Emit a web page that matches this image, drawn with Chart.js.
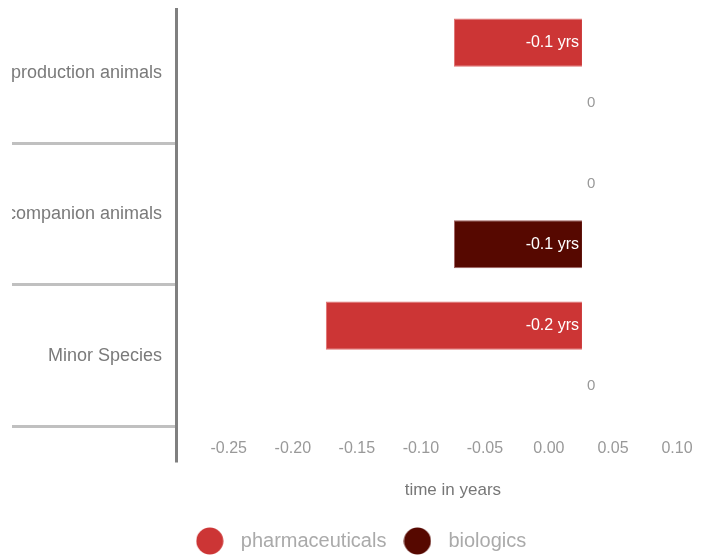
<!DOCTYPE html>
<html>
<head>
<meta charset="utf-8">
<title>time in years</title>
<script src="https://cdn.jsdelivr.net/npm/chart.js@4.4.0/dist/chart.umd.min.js"></script>
<style>
  html, body { margin: 0; padding: 0; background: #fff; }
  #wrap { width: 703px; height: 555px; }
</style>
</head>
<body>
<div id="wrap"><canvas id="chart"></canvas></div>
<script>
const categories = ['production animals', 'companion animals', 'Minor Species'];
const pharmaValues = [-0.1, 0, -0.2];
const bioValues = [0, -0.1, 0];
const tickValues = [-0.25, -0.2, -0.15, -0.1, -0.05, 0, 0.05, 0.1];

// value range of the bars, and how far the printed ticks are shifted from it
const barMin = -0.317;
const barMax = 0.0945;
const tickShift = 0.0258;

const FONT = "'Liberation Sans', Arial, sans-serif";
const TITLE_FONT = { family: FONT, size: 17 };
const TITLE_PAD = { top: 22, bottom: 20 };

// round legend markers with some room around them
function dot(color) {
  const c = document.createElement('canvas');
  c.width = 28;
  c.height = 28;
  const g = c.getContext('2d');
  g.fillStyle = color;
  g.beginPath();
  g.arc(14, 14, 13.5, 0, Math.PI * 2);
  g.fill();
  return c;
}

// "-0.1 yrs" inside the bar, plain "0" next to empty ones
const valueLabels = {
  id: 'valueLabels',
  afterDatasetsDraw(chart) {
    const ctx = chart.ctx;
    ctx.save();
    ctx.textBaseline = 'middle';
    chart.data.datasets.forEach((ds, di) => {
      chart.getDatasetMeta(di).data.forEach((bar, i) => {
        const v = ds.data[i];
        if (v === 0) {
          ctx.font = '15px ' + FONT;
          ctx.fillStyle = '#999';
          ctx.textAlign = 'left';
          ctx.fillText('0', bar.base + 5, bar.y);
        } else {
          ctx.font = '16px ' + FONT;
          ctx.fillStyle = '#fff';
          ctx.textAlign = 'right';
          ctx.fillText(v.toFixed(1) + ' yrs', bar.base - 3, bar.y);
        }
      });
    });
    ctx.restore();
  }
};

// vertical axis line (runs a bit past the plot at the bottom) and the
// axis title, centred under the printed ticks rather than the whole axis
const axisDecor = {
  id: 'axisDecor',
  afterDraw(chart) {
    const { ctx, chartArea } = chart;
    ctx.save();
    ctx.strokeStyle = '#808080';
    ctx.lineWidth = 3;
    ctx.beginPath();
    ctx.moveTo(chartArea.left + 0.5, chartArea.top + 6);
    ctx.lineTo(chartArea.left + 0.5, chartArea.bottom + 36);
    ctx.stroke();

    const s = chart.scales.x2;
    const mid = (s.getPixelForValue(tickValues[0]) +
                 s.getPixelForValue(tickValues[tickValues.length - 1])) / 2;
    const lineH = TITLE_FONT.size * 1.2;
    ctx.font = TITLE_FONT.size + 'px ' + FONT;
    ctx.fillStyle = '#777';
    ctx.textAlign = 'center';
    ctx.textBaseline = 'middle';
    ctx.fillText(s.options.title.text, mid, s.bottom - TITLE_PAD.bottom - lineH / 2);
    ctx.restore();
  }
};

new Chart(document.getElementById('chart'), {
  type: 'bar',
  data: {
    labels: categories,
    datasets: [{
      label: 'pharmaceuticals',
      data: pharmaValues,
      backgroundColor: '#cc3535',
      borderColor: '#e07070',
      borderWidth: 1,
      pointStyle: dot('#cc3535'),
      categoryPercentage: 0.85,
      barPercentage: 0.8
    }, {
      label: 'biologics',
      data: bioValues,
      backgroundColor: '#560800',
      borderColor: '#a06060',
      borderWidth: 1,
      pointStyle: dot('#560800'),
      categoryPercentage: 0.85,
      barPercentage: 0.8
    }]
  },
  options: {
    indexAxis: 'y',
    responsive: true,
    maintainAspectRatio: false,
    animation: false,
    layout: { padding: { left: 12, top: 2, right: 0, bottom: -6 } },
    scales: {
      x: {
        display: false,
        min: barMin,
        max: barMax
      },
      x2: {
        type: 'linear',
        axis: 'x',
        position: 'bottom',
        min: barMin + tickShift,
        max: barMax + tickShift,
        afterBuildTicks: s => { s.ticks = tickValues.map(v => ({ value: v })); },
        grid: { display: false, drawTicks: true, tickLength: 13 },
        border: { display: false },
        ticks: {
          padding: 0,
          color: '#999',
          font: { family: FONT, size: 16 },
          callback: v => (Math.abs(v) < 1e-9 ? 0 : v).toFixed(2)
        },
        title: {
          display: true,
          text: 'time in years',
          color: 'rgba(0,0,0,0)',
          font: TITLE_FONT,
          padding: TITLE_PAD
        }
      },
      y: {
        afterFit: s => { s.width = 164; },
        grid: {
          offset: true,
          drawOnChartArea: false,
          tickLength: 164,
          lineWidth: 3,
          color: c => (c.index === 0 ? 'rgba(0,0,0,0)' : '#c0c0c0')
        },
        border: { display: false },
        ticks: {
          padding: -150,
          color: '#7a7a7a',
          font: { family: FONT, size: 18 }
        }
      }
    },
    plugins: {
      legend: {
        position: 'bottom',
        labels: {
          usePointStyle: true,
          pointStyleWidth: 42,
          padding: 10,
          color: '#aaa',
          font: { family: FONT, size: 20 }
        }
      },
      tooltip: { enabled: false }
    }
  },
  plugins: [valueLabels, axisDecor]
});
</script>
</body>
</html>
